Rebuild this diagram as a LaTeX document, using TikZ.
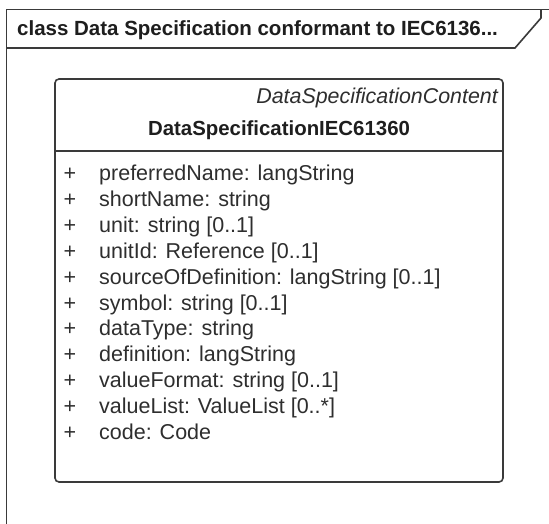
\documentclass[tikz,border=0pt]{standalone}
\usepackage{fontspec}
\setmainfont{Liberation Sans}
\definecolor{lineclr}{HTML}{3A3A3A}
\definecolor{txtclr}{HTML}{2E2E2E}
\definecolor{ttlclr}{HTML}{1E1E1E}
\begin{document}
\begin{tikzpicture}[x=1pt,y=-1pt,
  frameline/.style={draw=lineclr, line width=1.6pt},
  titletext/.style={anchor=west, inner sep=0pt, font=\fontsize{20.5}{24}\selectfont\bfseries, text=ttlclr},
  classbox/.style={draw=lineclr, line width=1.6pt, rounded corners=4pt, minimum width=448pt, minimum height=403pt, inner sep=0pt},
  stereo/.style={anchor=east, inner sep=0pt, font=\fontsize{21.4}{25}\selectfont\itshape, text=txtclr},
  cname/.style={inner sep=0pt, font=\fontsize{20.4}{24}\selectfont\bfseries, text=ttlclr},
  attr/.style={anchor=west, inner sep=0pt, font=\fontsize{21.5}{25}\selectfont, text=txtclr, text height=15.5pt, text depth=4.5pt},
  plus/.style={inner sep=0pt, font=\fontsize{21.5}{25}\selectfont, text=txtclr, text height=15.5pt, text depth=4.5pt}]
\useasboundingbox (0,0) rectangle (549,524);
\fill[white] (0,0) rectangle (549,524);
% frame
\coordinate (fTL) at (6.5,9.5);
\coordinate (fTR) at (549,9.5);
\coordinate (fBL) at (6.5,524);
\coordinate (hB) at (6.5,48);
\coordinate (hD) at (515,48);
\coordinate (hV) at (541,18);
\coordinate (hT) at (541,9.5);
\draw[frameline] (fBL) -- (fTL) -- (fTR);
\draw[frameline] (hB) -- (hD) -- (hV) -- (hT);
\node[titletext] (title) at (17,30) {class Data Specification conformant to IEC6136...};
% class
\node[classbox] (cls) at (279,280.5) {};
\coordinate (sepL) at (55,151);
\coordinate (sepR) at (503,151);
\draw[frameline] (sepL) -- (sepR);
\node[stereo] (st) at (498,98) {DataSpecificationContent};
\node[cname] (cn) at (279,130) {DataSpecificationIEC61360};
\foreach \i/\t in {0/{preferredName: langString},1/{shortName: string},2/{unit: string [0..1]},3/{unitId: Reference [0..1]},4/{sourceOfDefinition: langString [0..1]},5/{symbol: string [0..1]},6/{dataType: string},7/{definition: langString},8/{valueFormat: string [0..1]},9/{valueList: ValueList [0..*]},10/{code: Code}}{
  \node[plus] (p\i) at (70,175+25.9*\i) {+};
  \node[attr] (a\i) at (99,175+25.9*\i) {\t};
}
\end{tikzpicture}
\end{document}
